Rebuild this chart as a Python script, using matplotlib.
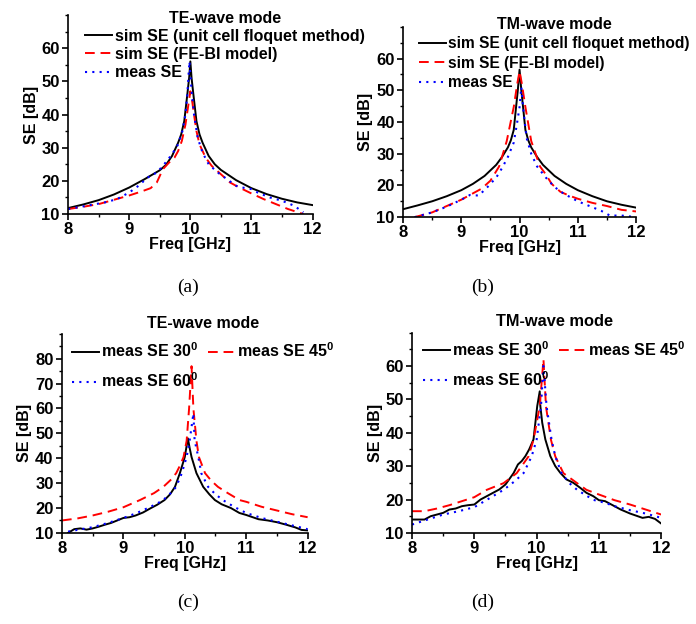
import matplotlib
matplotlib.use("Agg")
import matplotlib.pyplot as plt
import numpy as np

plt.rcParams['font.family'] = ['Liberation Sans', 'DejaVu Sans']
plt.rcParams['font.weight'] = 'bold'
plt.rcParams['axes.labelweight'] = 'bold'
plt.rcParams['mathtext.fontset'] = 'custom'
plt.rcParams['mathtext.bf'] = 'Liberation Sans:bold'
plt.rcParams['mathtext.rm'] = 'Liberation Sans:bold'

# ---- panel (a): TE-wave mode ----
a_f_sim = [8.0, 8.25, 8.5, 8.75, 9.0, 9.25, 9.5, 9.6, 9.7, 9.8, 9.85, 9.9, 9.95, 9.98, 10.0,
           10.02, 10.05, 10.1, 10.15, 10.2, 10.3, 10.4, 10.5, 10.75, 11.0, 11.25, 11.5, 11.75, 12.0]
a_sim = [11.8, 12.9, 14.2, 15.9, 18.0, 20.5, 23.2, 24.8, 27.5, 31.5, 34.0, 38.0, 46.0, 51.0, 56.0,
         51.0, 46.0, 38.0, 34.0, 31.5, 27.5, 25.0, 23.3, 20.2, 17.8, 16.0, 14.6, 13.5, 12.7]
a_f_fe = [8.0, 8.25, 8.5, 8.75, 9.0, 9.2, 9.35, 9.45, 9.55, 9.65, 9.74, 9.8, 9.86, 9.92, 9.96,
          10.0, 10.03, 10.06, 10.1, 10.15, 10.25, 10.35, 10.5, 10.65, 10.8, 11.0, 11.2, 11.4,
          11.6, 11.85]
a_fe = [11.5, 12.2, 13.0, 14.3, 15.6, 16.8, 17.8, 19.5, 23.5, 25.5, 27.0, 29.0, 32.0, 37.0, 42.0,
        47.0, 44.0, 40.0, 35.0, 31.0, 27.0, 24.5, 22.0, 19.5, 18.0, 16.2, 14.5, 13.0, 11.5, 10.0]
a_f_meas = [8.0, 8.3, 8.6, 8.8, 9.0, 9.15, 9.3, 9.45, 9.55, 9.7, 9.8, 9.87, 9.92, 9.95, 9.985,
            10.02, 10.06, 10.12, 10.2, 10.3, 10.45, 10.6, 10.75, 10.85, 11.0, 11.1, 11.3, 11.5,
            11.7, 11.85]
a_meas = [11.5, 12.5, 13.5, 14.5, 16.5, 18.5, 21.0, 22.5, 24.5, 28.0, 31.0, 35.0, 40.0, 46.0,
          56.0, 47.0, 40.0, 33.0, 28.5, 25.0, 22.5, 20.5, 18.5, 18.0, 17.5, 16.5, 15.0, 14.0,
          12.5, 10.5]

# ---- panel (b): TM-wave mode ----
b_f_sim = [8.0, 8.25, 8.5, 8.75, 9.0, 9.2, 9.4, 9.6, 9.7, 9.8, 9.85, 9.9, 9.94, 9.97, 10.0,
           10.03, 10.06, 10.1, 10.15, 10.2, 10.3, 10.4, 10.6, 10.8, 11.0, 11.25, 11.5, 11.75, 12.0]
b_sim = [12.5, 13.7, 15.0, 16.6, 18.5, 20.5, 23.0, 26.5, 29.0, 32.0, 34.2, 37.5, 44.7, 50.0, 56.5,
         50.0, 44.7, 37.5, 34.2, 32.0, 29.0, 26.5, 23.0, 20.5, 18.5, 16.6, 15.0, 13.9, 13.0]
b_f_fe = [8.2, 8.5, 8.75, 9.0, 9.2, 9.35, 9.5, 9.6, 9.65, 9.78, 9.9, 9.96, 10.0, 10.04, 10.1,
          10.2, 10.35, 10.45, 10.55, 10.7, 10.85, 11.0, 11.25, 11.5, 11.75, 12.0]
b_fe = [10.0, 11.5, 13.5, 15.5, 17.5, 19.0, 21.5, 24.5, 26.0, 34.0, 44.7, 52.0, 56.0, 52.0, 44.7,
        34.0, 26.0, 23.5, 20.5, 18.0, 16.8, 15.8, 14.5, 13.5, 12.3, 11.8]
b_f_meas = [8.2, 8.5, 8.75, 9.0, 9.15, 9.3, 9.45, 9.6, 9.7, 9.8, 9.9, 9.96, 10.0, 10.03, 10.06,
            10.12, 10.2, 10.3, 10.45, 10.6, 10.75, 11.0, 11.2, 11.4, 11.55, 11.75, 12.0]
b_meas = [10.0, 11.5, 13.3, 15.5, 17.0, 16.8, 19.5, 22.5, 25.5, 29.0, 33.5, 40.0, 44.7, 51.0,
          44.7, 35.0, 30.0, 26.0, 22.5, 19.5, 17.5, 15.0, 13.5, 12.0, 10.5, 10.5, 10.0]

# ---- panel (c): TE-wave mode, oblique incidence ----
c_f_30 = [8.1, 8.2, 8.3, 8.4, 8.5, 8.6, 8.7, 8.8, 8.9, 9.0, 9.1, 9.2, 9.32, 9.45, 9.55, 9.67,
          9.76, 9.84, 9.92, 10.0, 10.05, 10.08, 10.11, 10.19, 10.3, 10.4, 10.49, 10.6, 10.75,
          10.89, 11.0, 11.2, 11.35, 11.5, 11.65, 11.8, 11.9, 12.0]
c_30 = [10.0, 11.5, 11.8, 11.3, 11.8, 12.5, 13.3, 14.0, 15.0, 16.0, 16.3, 17.0, 18.2, 20.0, 21.3,
        23.2, 25.5, 28.5, 34.0, 40.5, 48.0, 44.0, 40.5, 34.0, 28.5, 25.5, 23.2, 21.5, 20.0, 18.0,
        17.2, 15.5, 15.0, 14.3, 13.3, 12.2, 11.2, 11.0]
c_f_45 = [8.0, 8.25, 8.5, 8.75, 9.0, 9.27, 9.5, 9.65, 9.78, 9.86, 9.93, 9.98, 10.03, 10.07, 10.11,
          10.14, 10.19, 10.23, 10.33, 10.43, 10.54, 10.7, 10.89, 11.0, 11.25, 11.5, 11.75, 12.0]
c_45 = [15.0, 15.8, 17.0, 18.5, 20.3, 23.2, 26.0, 28.5, 31.5, 34.0, 37.5, 40.5, 47.0, 60.0, 77.0,
        60.0, 47.0, 40.5, 34.0, 31.0, 28.5, 26.0, 23.2, 22.5, 20.5, 19.0, 17.5, 16.3]
c_f_60 = [8.1, 8.25, 8.5, 8.75, 9.0, 9.21, 9.4, 9.55, 9.65, 9.77, 9.86, 9.95, 10.03, 10.08, 10.14,
          10.16, 10.22, 10.27, 10.38, 10.5, 10.62, 10.8, 11.0, 11.25, 11.5, 11.75, 12.0]
c_60 = [10.5, 11.2, 12.3, 14.0, 16.0, 17.9, 20.0, 21.8, 23.2, 26.0, 28.5, 33.9, 40.5, 47.2, 58.0,
        47.2, 40.5, 33.9, 28.5, 25.5, 23.2, 20.5, 18.0, 16.0, 14.5, 13.0, 11.5]

# ---- panel (d): TM-wave mode, oblique incidence ----
d_f_30 = [8.0, 8.1, 8.2, 8.3, 8.4, 8.5, 8.6, 8.7, 8.8, 8.9, 9.0, 9.1, 9.2, 9.3, 9.4, 9.5, 9.63,
          9.7, 9.76, 9.82, 9.88, 9.95, 10.01, 10.05, 10.06, 10.09, 10.14, 10.22, 10.3, 10.38,
          10.48, 10.59, 10.7, 10.8, 10.91, 11.0, 11.1, 11.2, 11.35, 11.5, 11.7, 11.8, 11.9, 12.0]
d_30 = [14.0, 14.0, 14.0, 15.0, 15.5, 16.0, 17.0, 17.3, 18.0, 18.3, 18.5, 20.0, 21.0, 22.0,
        23.0, 24.5, 27.9, 30.5, 31.5, 33.0, 35.0, 38.0, 48.0, 52.4, 48.0, 43.0, 38.0, 33.0, 30.0,
        28.0, 26.0, 25.0, 23.5, 22.0, 21.0, 19.8, 19.5, 18.5, 17.0, 15.8, 14.5, 14.8, 14.2, 12.8]
d_f_45 = [8.0, 8.2, 8.4, 8.6, 8.8, 9.0, 9.2, 9.47, 9.68, 9.87, 9.95, 10.05, 10.11, 10.15, 10.23,
          10.3, 10.43, 10.65, 10.8, 11.0, 11.25, 11.5, 11.75, 12.0]
d_45 = [16.5, 16.5, 17.3, 18.3, 19.5, 20.7, 22.9, 24.9, 27.9, 32.9, 37.9, 47.9, 62.0, 47.9, 37.9,
        32.9, 27.9, 24.9, 22.9, 21.5, 19.8, 18.5, 17.0, 15.5]
d_f_60 = [8.0, 8.25, 8.5, 8.75, 9.0, 9.2, 9.47, 9.65, 9.79, 9.92, 10.0, 10.07, 10.11, 10.16, 10.24,
          10.3, 10.4, 10.52, 10.65, 10.91, 11.1, 11.25, 11.5, 11.75, 12.0]
d_60 = [12.5, 14.0, 15.5, 16.5, 17.7, 19.9, 22.9, 25.5, 27.9, 32.9, 37.9, 47.9, 60.0, 47.9, 37.9,
        32.9, 27.9, 25.0, 22.9, 19.9, 19.0, 18.0, 16.8, 15.8, 14.5]

labels_sim = ['sim SE (unit cell floquet method)', 'sim SE (FE-BI model)', 'meas SE']
labels_ang = [r'meas SE 30$^{\mathbf{0}}$', r'meas SE 45$^{\mathbf{0}}$', r'meas SE 60$^{\mathbf{0}}$']

fig = plt.figure(figsize=(6.96, 6.24), dpi=100)

# axes rectangles in figure fractions
ax_a = fig.add_axes([0.098, 0.657, 0.351, 0.319])
ax_b = fig.add_axes([0.579, 0.652, 0.335, 0.305])
ax_c = fig.add_axes([0.089, 0.146, 0.353, 0.319])
ax_d = fig.add_axes([0.592, 0.146, 0.358, 0.321])

style = {'solid': dict(color='black', ls='-', lw=1.4),
         'dash': dict(color='red', ls=(0, (5, 3)), lw=1.4),
         'dot': dict(color='blue', ls=(0, (1, 2.5)), lw=1.5)}

FS = 11.5


def leg_kw(fs, tfs):
    return dict(loc='upper left', frameon=False,
                title_fontproperties={'weight': 'bold', 'size': tfs},
                prop={'weight': 'bold', 'size': fs},
                handlelength=1.7, handletextpad=0.15, borderpad=0.1)


def setup(ax, ymax, ystep):
    ax.set_xlim(8, 12)
    ax.set_ylim(10, ymax)
    ax.set_xticks([8, 9, 10, 11, 12])
    ax.set_xticks(np.arange(8, 12.01, 0.5), minor=True)
    ax.set_yticks(np.arange(10, ymax - 1, ystep))
    ax.set_yticks(np.arange(10, ymax + 0.1, ystep / 2), minor=True)
    ax.spines['top'].set_visible(False)
    ax.spines['right'].set_visible(False)
    for s in ['left', 'bottom']:
        ax.spines[s].set_linewidth(1.2)
    ax.tick_params(which='major', length=4, width=1.2, labelsize=12, pad=2)
    ax.tick_params(which='minor', length=2.5, width=1.0)
    for t in ax.get_xticklabels() + ax.get_yticklabels():
        t.set_fontweight('bold')
    ax.set_xlabel('Freq [GHz]', fontsize=FS, fontweight='bold', labelpad=0)
    ax.set_ylabel('SE [dB]', fontsize=FS, fontweight='bold', labelpad=2)


# (a)
ax_a.plot(a_f_sim, a_sim, label=labels_sim[0], **style['solid'])
ax_a.plot(a_f_fe, a_fe, label=labels_sim[1], **style['dash'])
ax_a.plot(a_f_meas, a_meas, label=labels_sim[2], **style['dot'])
setup(ax_a, 70, 10)
ax_a.legend(bbox_to_anchor=(0.03, 1.07), title='TE-wave mode', labelspacing=0.2,
            **leg_kw(11.5, 11.5))

# (b)
ax_b.plot(b_f_sim, b_sim, label=labels_sim[0], **style['solid'])
ax_b.plot(b_f_fe, b_fe, label=labels_sim[1], **style['dash'])
ax_b.plot(b_f_meas, b_meas, label=labels_sim[2], **style['dot'])
setup(ax_b, 70, 10)
ax_b.legend(bbox_to_anchor=(0.03, 1.1), title='TM-wave mode', labelspacing=0.28,
            **leg_kw(11.2, 11.5))

# (c)
ax_c.plot(c_f_30, c_30, label=labels_ang[0], **style['solid'])
ax_c.plot(c_f_45, c_45, label=labels_ang[1], **style['dash'])
ax_c.plot(c_f_60, c_60, label=labels_ang[2], **style['dot'])
setup(ax_c, 90, 10)
h, l = ax_c.get_legend_handles_labels()
ax_c.legend([h[0], h[2], h[1]], [l[0], l[2], l[1]], ncol=2, bbox_to_anchor=(0.0, 1.14),
            title='TE-wave mode', labelspacing=0.7, columnspacing=0.6, **leg_kw(11.5, 11.5))

# (d)
ax_d.plot(d_f_30, d_30, label=labels_ang[0], **style['solid'])
ax_d.plot(d_f_45, d_45, label=labels_ang[1], **style['dash'])
ax_d.plot(d_f_60, d_60, label=labels_ang[2], **style['dot'])
setup(ax_d, 70, 10)
h, l = ax_d.get_legend_handles_labels()
ax_d.legend([h[0], h[2], h[1]], [l[0], l[2], l[1]], ncol=2, bbox_to_anchor=(0.005, 1.14),
            title='TM-wave mode', labelspacing=0.7, columnspacing=0.6, **leg_kw(11.5, 11.8))

for txt, x, y in [('(a)', 0.27, 0.54), ('(b)', 0.694, 0.54), ('(c)', 0.27, 0.034), ('(d)', 0.694, 0.034)]:
    fig.text(x, y, txt, ha='center', va='center', fontsize=14,
             family=['Liberation Serif', 'DejaVu Serif'], fontweight='normal')

fig.savefig('out.png', dpi=100)
